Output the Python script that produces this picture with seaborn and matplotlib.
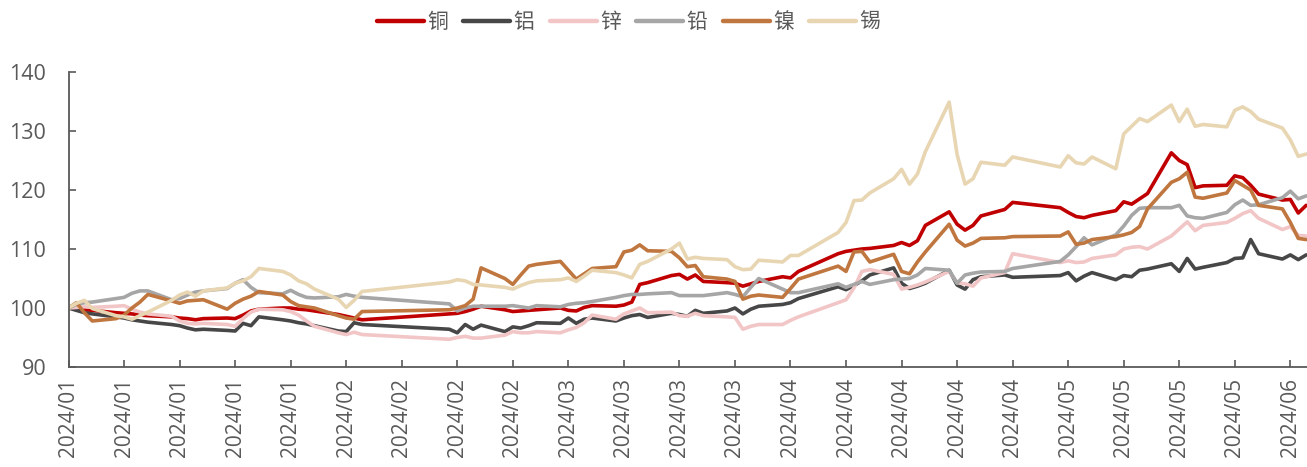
import numpy as np
import pandas as pd
import matplotlib
matplotlib.use("Agg")
import matplotlib.pyplot as plt
import matplotlib.dates as mdates
import seaborn as sns

# Exchange trading calendar, 2024-01-02 .. 2024-06-06 (Spring Festival, Qingming, Labour Day closed)
holidays = pd.to_datetime([
    "2024-02-09", "2024-02-12", "2024-02-13", "2024-02-14", "2024-02-15", "2024-02-16",
    "2024-04-04", "2024-04-05",
    "2024-05-01", "2024-05-02", "2024-05-03",
])
dates = pd.bdate_range("2024-01-02", "2024-06-06")
dates = dates[~dates.isin(holidays)]

metals = ["铜", "铝", "锌", "铅", "镍", "锡"]
colors = ["#c00000", "#474747", "#f2c6c6", "#a6a6a6", "#c0763f", "#e8d6b3"]

# Price indices, 2024-01-02 = 100
copper = [
    100.0, 99.9, 99.7, 99.6, 99.2, 99.1, 99.0, 98.8, 98.7, 98.5, 98.3, 98.2, 98.0, 98.2, 98.3, 98.2, 98.8, 99.5, 99.8, 100.0, 100.0, 99.8,
    99.7, 99.5, 98.9, 98.6, 98.3, 98.0, 99.0, 99.1, 99.4, 99.8, 100.3, 99.7, 99.4, 99.5, 99.6,
    99.7, 100.0, 99.6, 99.5, 100.1, 100.4, 100.3, 100.5, 101.0, 104.0, 104.3, 105.5, 105.7, 104.9, 105.6, 104.5, 104.3, 104.2, 103.7, 104.1, 104.5,
    105.3, 105.1, 106.2, 109.2, 109.6, 109.8, 110.0, 110.1, 110.6, 111.1, 110.6, 111.4, 114.0, 116.3, 114.2, 113.2, 114.0, 115.6, 116.7, 117.9,
    117.0, 116.2, 115.5, 115.3, 115.7, 116.5, 118.0, 117.6, 118.5, 119.4, 126.3, 125.0, 124.3, 120.4, 120.7, 120.8, 122.4, 122.1, 120.8, 119.3,
    118.3, 118.4, 116.1, 117.4,
]
aluminium = [
    100.0, 99.6, 99.2, 99.0, 98.5, 98.3, 98.0, 97.8, 97.6, 97.2, 97.0, 96.6, 96.3, 96.4, 96.2, 96.1, 97.4, 97.0, 98.5, 98.0, 97.8, 97.5,
    97.3, 97.0, 96.1, 96.0, 97.5, 97.2, 96.4, 95.8, 97.2, 96.4, 97.1, 96.0, 96.8, 96.6, 97.0,
    97.5, 97.4, 98.3, 97.4, 98.1, 98.3, 97.8, 98.3, 98.7, 98.9, 98.4, 99.1, 98.9, 98.6, 99.6, 99.1, 99.5, 100.0, 99.0, 99.8, 100.3,
    100.6, 100.9, 101.6, 103.6, 103.1, 103.8, 104.6, 105.6, 106.8, 104.2, 103.3, 103.7, 104.2, 106.4, 103.9, 103.2, 104.8, 105.3, 105.6, 105.2,
    105.5, 106.0, 104.6, 105.4, 106.0, 104.8, 105.5, 105.3, 106.4, 106.6, 107.5, 106.2, 108.4, 106.6, 106.9, 107.7, 108.4, 108.5, 111.6, 109.2,
    108.3, 109.0, 108.2, 109.0,
]
zinc = [
    100.0, 100.1, 100.2, 100.1, 100.3, 100.4, 99.8, 99.3, 99.0, 98.6, 97.8, 97.4, 97.3, 97.4, 97.2, 96.9, 98.2, 99.3, 99.8, 99.7, 99.4, 98.8,
    97.8, 96.9, 95.8, 95.5, 95.9, 95.5, 94.7, 95.0, 95.2, 94.9, 94.9, 95.4, 96.0, 95.8, 95.8,
    96.0, 95.8, 96.3, 96.7, 97.5, 98.8, 98.1, 99.0, 99.5, 100.0, 99.2, 99.3, 98.7, 98.6, 99.1, 98.7, 98.5, 98.4, 96.4, 96.9, 97.2,
    97.2, 97.9, 98.5, 100.9, 101.4, 103.4, 106.2, 106.5, 105.7, 103.2, 103.5, 103.9, 104.4, 106.2, 104.3, 104.1, 103.7, 105.1, 106.0, 109.2,
    107.7, 108.0, 107.7, 107.8, 108.4, 109.0, 110.0, 110.3, 110.4, 110.0, 112.2, 113.4, 114.6, 113.1, 114.0, 114.5, 115.2, 116.0, 116.5, 115.2,
    113.3, 113.8, 112.3, 112.2,
]
lead = [
    100.0, 100.6, 100.9, 101.0, 101.6, 101.8, 102.5, 102.9, 102.9, 101.4, 101.6, 102.2, 102.7, 102.9, 103.3, 104.2, 104.8, 103.5, 102.6, 102.4, 103.0, 102.3,
    101.8, 101.7, 101.9, 102.3, 102.0, 101.8, 100.7, 99.5, 100.0, 100.3, 100.3, 100.3, 100.4, 100.2, 100.0,
    100.4, 100.2, 100.6, 100.8, 100.9, 101.1, 101.8, 102.1, 102.3, 102.3, 102.4, 102.6, 102.1, 102.1, 102.1, 102.1, 102.6, 102.3, 101.9, 103.5, 105.0,
    103.2, 102.6, 102.6, 104.1, 103.5, 104.0, 104.5, 104.0, 104.8, 104.9, 105.0, 105.6, 106.7, 106.4, 104.2, 105.6, 105.9, 106.1, 106.2, 106.7,
    107.9, 109.0, 110.4, 111.9, 110.7, 112.4, 113.9, 115.7, 116.9, 117.0, 117.0, 117.4, 115.6, 115.3, 115.2, 116.2, 117.5, 118.3, 117.4, 117.5,
    118.7, 119.8, 118.5, 119.0,
]
nickel = [
    100.0, 100.9, 99.2, 97.8, 98.2, 98.8, 100.0, 101.0, 102.3, 101.2, 100.8, 101.2, 101.3, 101.4, 99.8, 100.8, 101.5, 102.0, 102.8, 102.2, 101.1, 100.4,
    100.2, 100.0, 98.7, 98.3, 98.1, 99.4, 99.7, 100.0, 100.4, 101.5, 106.8, 105.0, 104.0, 105.6, 107.1,
    107.4, 107.9, 106.4, 104.9, 105.8, 106.7, 107.0, 109.5, 109.8, 110.7, 109.7, 109.6, 108.5, 107.0, 107.2, 105.3, 104.9, 104.5, 101.5, 102.0, 102.2,
    101.8, 103.3, 104.9, 107.1, 106.2, 109.5, 109.6, 107.8, 109.1, 106.2, 105.8, 107.8, 109.5, 114.2, 111.5, 110.5, 111.0, 111.8, 111.9, 112.1,
    112.2, 112.9, 110.8, 111.0, 111.6, 112.1, 112.4, 112.8, 113.8, 116.8, 121.3, 121.9, 123.0, 118.8, 118.6, 119.5, 121.6, 120.8, 120.0, 117.4,
    116.8, 114.5, 111.8, 111.6,
]
tin = [
    100.0, 100.8, 101.3, 99.9, 98.7, 98.5, 98.1, 98.7, 99.3, 101.3, 102.2, 102.7, 102.0, 102.9, 103.4, 104.2, 104.6, 105.3, 106.7, 106.2, 105.6, 104.6,
    104.1, 103.2, 101.5, 100.1, 101.3, 102.8, 104.4, 104.8, 104.6, 104.0, 103.9, 103.5, 103.2, 103.8, 104.3,
    104.6, 104.8, 105.1, 104.5, 105.4, 106.4, 106.0, 105.6, 105.1, 107.4, 107.9, 110.0, 111.0, 108.3, 108.6, 108.4, 108.2, 107.0, 106.5, 106.6, 108.1,
    107.8, 108.9, 108.9, 112.8, 114.5, 118.2, 118.3, 119.5, 121.9, 123.5, 121.0, 122.7, 126.5, 134.9, 126.0, 121.0, 121.9, 124.7, 124.2, 125.6,
    123.9, 125.8, 124.6, 124.4, 125.6, 123.6, 129.5, 130.8, 132.1, 131.6, 134.4, 131.6, 133.7, 130.8, 131.1, 130.7, 133.5, 134.1, 133.3, 132.0,
    130.5, 128.5, 125.7, 126.1,
]

wide = pd.DataFrame({"date": dates, "铜": copper, "铝": aluminium, "锌": zinc,
                     "铅": lead, "镍": nickel, "锡": tin})
df = wide.melt(id_vars="date", var_name="metal", value_name="index")

sns.set_theme(style="white")
plt.rcParams["font.family"] = ["Open Sans", "Noto Sans CJK SC", "DejaVu Sans"]
text_color = "#595959"

W, H = 1307, 467
fig = plt.figure(figsize=(W / 100, H / 100), dpi=100)
ax = fig.add_axes([68.5 / W, 100 / H, (W - 68.5) / W, 295 / H])

sns.lineplot(data=df, x="date", y="index", hue="metal", hue_order=metals,
             palette=colors, linewidth=2.6, estimator=None, ax=ax)

ax.set_ylim(90, 140)
ax.set_yticks(np.arange(90, 141, 10))
start = dates[0]
ax.set_xlim(start, start + pd.Timedelta(days=156.1))
ax.xaxis.set_major_locator(mdates.WeekdayLocator(byweekday=mdates.TU))
ax.xaxis.set_major_formatter(mdates.DateFormatter("%Y/%m"))
ax.set_xlabel("")
ax.set_ylabel("")

for side in ["top", "right"]:
    ax.spines[side].set_visible(False)
for side in ["left", "bottom"]:
    ax.spines[side].set_color(text_color)
    ax.spines[side].set_linewidth(1.3)

ax.tick_params(axis="both", direction="in", length=5, width=1.2,
               colors=text_color, left=True, bottom=True)
ax.tick_params(axis="y", pad=16, labelsize=15.5)
ax.tick_params(axis="x", pad=8, labelrotation=90, labelsize=15)

handles, labels = ax.get_legend_handles_labels()
ax.get_legend().remove()
leg = fig.legend(handles, labels, loc="center", bbox_to_anchor=(0.481, 0.951),
                 ncol=6, frameon=False, fontsize=15, handlelength=2.25,
                 handletextpad=0.15, columnspacing=0.75, labelcolor=text_color)
for h in leg.legend_handles:
    h.set_linewidth(3.2)

fig.savefig("out.png", dpi=100)
